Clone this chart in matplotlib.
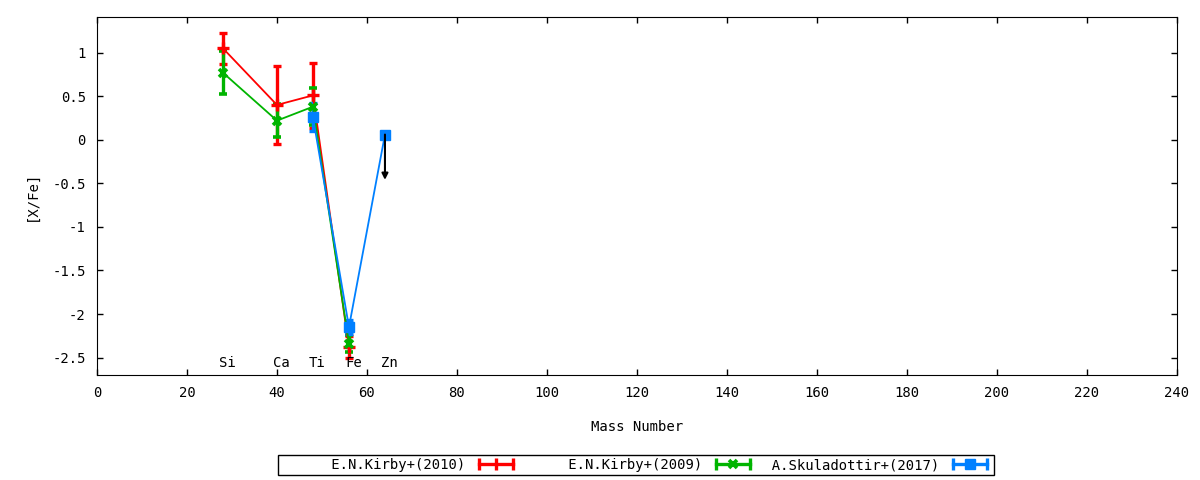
import matplotlib.pyplot as plt
from matplotlib.lines import Line2D
from matplotlib.legend_handler import HandlerLine2D, HandlerTuple
from matplotlib.ticker import FuncFormatter, MultipleLocator

plt.rcParams['font.family'] = ['DejaVu Sans Mono']
plt.rcParams['font.size'] = 10

# element labels and mass numbers
elements = ['Si', 'Ca', 'Ti', 'Fe', 'Zn']
masses = [28, 40, 48, 56, 64]

# E.N.Kirby+(2010)
kirby10_mass = [28, 40, 48, 56]
kirby10_val = [1.05, 0.40, 0.51, -2.38]
kirby10_err = [0.18, 0.45, 0.37, 0.13]

# E.N.Kirby+(2009)
kirby09_mass = [28, 40, 48, 56]
kirby09_val = [0.77, 0.22, 0.38, -2.34]
kirby09_err = [0.25, 0.19, 0.21, 0.10]

# A.Skuladottir+(2017), Zn is an upper limit
skul_mass = [48, 56, 64]
skul_val = [0.26, -2.15, 0.06]
skul_err = [0.16, 0.08, 0.0]
zn_limit_end = -0.46

red = '#ff0000'
green = '#00b400'
blue = '#0080ff'

fig = plt.figure(figsize=(12, 4.8), dpi=100)
ax = fig.add_axes([0.0808, 0.21875, 0.9, 0.7459])

ax.errorbar(kirby10_mass, kirby10_val, yerr=kirby10_err, color=red, lw=1.3,
            elinewidth=2.4, capsize=3, capthick=2.4, marker='+', ms=8, mew=2.4)
ax.errorbar(kirby09_mass, kirby09_val, yerr=kirby09_err, color=green, lw=1.3,
            elinewidth=2.4, capsize=3, capthick=2.4, marker='x', ms=6, mew=2.6)
ax.errorbar(skul_mass, skul_val, yerr=skul_err, color=blue, lw=1.3,
            elinewidth=2.4, capsize=3, capthick=2.4, marker='s', ms=7)
ax.annotate('', xy=(skul_mass[-1], zn_limit_end), xytext=(skul_mass[-1], skul_val[-1]),
            arrowprops=dict(arrowstyle='-|>', color='k', lw=1.5, mutation_scale=9,
                            shrinkA=0, shrinkB=0))

for el, m in zip(elements, masses):
    ax.text(m + 1, -2.56, el, ha='center', va='center')

ax.set_xlim(0, 240)
ax.set_ylim(-2.7, 1.41)
ax.xaxis.set_major_locator(MultipleLocator(20))
ax.yaxis.set_major_locator(MultipleLocator(0.5))
ax.yaxis.set_major_formatter(FuncFormatter(lambda v, p: '%g' % v))
ax.tick_params(direction='in', top=True, right=True, length=4, width=1, pad=8)
ax.set_xlabel('Mass Number', labelpad=14)
ax.set_ylabel('[X/Fe]', labelpad=10)

# gnuplot-style legend samples: capped line with the point in the middle
handles = []
hmap = {}
for c, mk, ms, mew in [(red, '|', 8, 2.4), (green, 'x', 6, 2.6), (blue, 's', 7, 1)]:
    caps = Line2D([], [], color=c, lw=2.4, marker='|', ms=8, mew=2.4)
    mid = Line2D([], [], color=c, lw=0, marker=mk, ms=ms, mew=mew)
    hmap[caps] = HandlerLine2D(numpoints=2)
    hmap[mid] = HandlerLine2D(numpoints=1)
    handles.append((caps, mid))
hmap[tuple] = HandlerTuple(ndivide=1, pad=0)
labels = ['E.N.Kirby+(2010)', 'E.N.Kirby+(2009)', 'A.Skuladottir+(2017)']
leg = fig.legend(handles, [l.rjust(22) for l in labels], handler_map=hmap,
                 loc='center', bbox_to_anchor=(0.53, 0.031), ncol=3,
                 markerfirst=False, handlelength=3.0, handletextpad=0.7,
                 columnspacing=0.1, borderpad=0.2, fancybox=False, framealpha=1)
leg.get_frame().set_edgecolor('black')
leg.get_frame().set_linewidth(1)

fig.savefig('out.png', dpi=100)
